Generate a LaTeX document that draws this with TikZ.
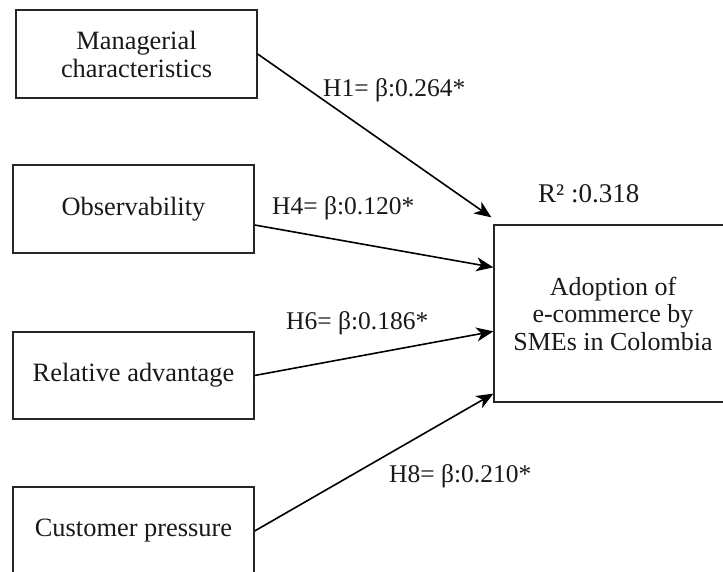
\documentclass[tikz,border=0pt]{standalone}
\usepackage{fontspec}
\setmainfont{Liberation Serif}
\usetikzlibrary{arrows.meta}
\begin{document}
\begin{tikzpicture}[x=1pt,y=1pt,
  box/.style={draw=black!85, line width=1.3pt, rectangle, inner sep=0pt,
    align=center, font=\fontsize{26.4}{28}\selectfont, text=black!90},
  conn/.style={line width=1.6pt, -{Stealth[length=17pt,width=14pt,inset=5pt]}},
  lbl/.style={inner sep=0pt, anchor=base west, font=\fontsize{25.5}{28}\selectfont, text=black!90}]
\useasboundingbox (0,0) rectangle (723,572);
% boxes (img y -> 572 - y)
\node[box, minimum width=241pt, minimum height=88pt] (mc) at (136.5,518) {Managerial\\characteristics};
\node[box, minimum width=241pt, minimum height=88pt] (ob) at (133.5,363) {Observability};
\node[box, minimum width=241pt, minimum height=87pt] (ra) at (133.5,196.5) {Relative advantage};
\node[box, minimum width=241pt, minimum height=88pt] (cp) at (133.5,41) {Customer pressure};
\node[box, minimum width=238pt, minimum height=177pt, font=\fontsize{26}{27.5}\selectfont] (tg) at (613,258.5) {Adoption of\\e-commerce by\\SMEs in Colombia};
% connectors
\draw[conn] (mc.east) -- ([shift={(-2pt,7pt)}]tg.north west);
\draw[conn] ([yshift=-16pt]ob.east) -- ([yshift=-43pt]tg.north west);
\draw[conn] (ra.east) -- ([yshift=-107pt]tg.north west);
\draw[conn] (cp.east) -- ([yshift=9pt]tg.south west);
% labels
\node[lbl] (l1) at (323,475) {H1= β:0.264*};
\node[lbl] (l4) at (272,357) {H4= β:0.120*};
\node[lbl] (l6) at (286,242) {H6= β:0.186*};
\node[lbl] (l8) at (389,89) {H8= β:0.210*};
\node[lbl, font=\fontsize{27}{28}\selectfont] (r2) at (538,369) {R² :0.318};
\end{tikzpicture}
\end{document}
